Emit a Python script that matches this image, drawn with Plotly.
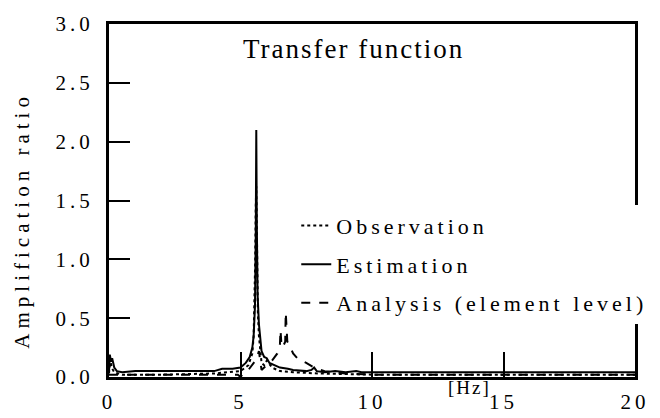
import plotly.graph_objects as go

# Estimation (solid)
est_f = [0, 0.03, 0.08, 0.12, 0.2, 0.3, 0.5, 1, 2, 3, 4, 4.3, 4.7, 5.0, 5.2, 5.35, 5.45, 5.5, 5.55, 5.58, 5.6, 5.62, 5.65, 5.7, 5.75, 5.8, 5.9, 6.0, 6.1, 6.3, 6.5, 6.8, 7.0, 7.5, 7.7, 7.8, 7.9, 8.2, 8.6, 9, 9.4, 9.6, 10, 12, 15, 18, 20]
est_v = [0.04, 0.19, 0.13, 0.16, 0.08, 0.05, 0.04, 0.05, 0.05, 0.05, 0.05, 0.07, 0.07, 0.08, 0.12, 0.17, 0.25, 0.35, 0.6, 1.2, 2.1, 1.3, 0.7, 0.45, 0.3, 0.22, 0.17, 0.16, 0.12, 0.1, 0.08, 0.07, 0.06, 0.05, 0.06, 0.08, 0.05, 0.04, 0.05, 0.04, 0.05, 0.04, 0.04, 0.04, 0.04, 0.04, 0.04]

# Observation (dotted)
obs_f = [0, 0.05, 0.1, 0.2, 0.5, 2, 4, 5.0, 5.3, 5.45, 5.5, 5.53, 5.56, 5.58, 5.6, 5.62, 5.64, 5.66, 5.7, 5.75, 5.8, 5.9, 6.0, 6.2, 6.5, 7, 8, 10, 15, 20]
obs_v = [0.03, 0.15, 0.08, 0.04, 0.02, 0.02, 0.03, 0.05, 0.1, 0.2, 0.35, 0.6, 1.0, 1.45, 1.62, 1.3, 0.9, 0.55, 0.35, 0.2, 0.12, 0.1, 0.14, 0.08, 0.05, 0.04, 0.03, 0.02, 0.02, 0.02]

# Analysis (dashed)
ana_f = [0, 1, 4, 4.9, 5.0, 5.1, 5.3, 5.5, 5.6, 5.7, 5.75, 5.8, 6.0, 6.2, 6.4, 6.5, 6.52, 6.55, 6.6, 6.7, 6.72, 6.75, 6.78, 6.85, 7.0, 7.2, 7.5, 7.8, 8.2, 9, 10, 15, 20]
ana_v = [0.02, 0.02, 0.02, 0.02, 0.0, 0.03, 0.06, 0.12, 0.15, 0.22, 0.12, 0.06, 0.1, 0.14, 0.2, 0.28, 0.4, 0.3, 0.25, 0.3, 0.55, 0.35, 0.3, 0.28, 0.2, 0.15, 0.12, 0.08, 0.05, 0.03, 0.02, 0.02, 0.02]

x_ticks = [0, 5, 10, 15, 20]
y_ticks = [0.0, 0.5, 1.0, 1.5, 2.0, 2.5, 3.0]
y_labels = ["0.0", "0.5", "1.0", "1.5", "2.0", "2.5", "3.0"]

FONT = "Liberation Serif, Times New Roman, serif"

fig = go.Figure()
fig.add_trace(go.Scatter(x=obs_f, y=obs_v, mode="lines", name="Observation",
                         line=dict(color="black", width=2, dash="dot"), legendgroup="a"))
fig.add_trace(go.Scatter(x=est_f, y=est_v, mode="lines", name="Estimation",
                         line=dict(color="black", width=2), legendgroup="b"))
fig.add_trace(go.Scatter(x=ana_f, y=ana_v, mode="lines", name="Analysis (element level)",
                         line=dict(color="black", width=2, dash="dash"), legendgroup="c"))

fig.add_annotation(text="Transfer function", x=9.3, y=2.79, xref="x", yref="y",
                   showarrow=False, font=dict(family=FONT, size=27, color="black"))
fig.add_annotation(text="[Hz]", x=13.7, y=-0.03, xref="x", yref="paper", yanchor="middle",
                   showarrow=False, font=dict(family=FONT, size=19, color="black"))
# y-axis title (placed as an annotation so it can sit slightly below centre, as in the reference)
fig.add_annotation(text="Amplification ratio", x=-0.165, y=0.445, xref="paper", yref="paper",
                   xanchor="center", yanchor="middle", textangle=-90,
                   showarrow=False, font=dict(family=FONT, size=21, color="black"))

fig.update_layout(
    width=660, height=418,
    margin=dict(l=101, r=33, t=16, b=49, autoexpand=False),
    paper_bgcolor="white", plot_bgcolor="white",
    font=dict(family=FONT, size=21, color="black"),
    showlegend=True,
    legend=dict(x=0.356, y=0.488, xanchor="left", yanchor="top",
                bgcolor="white", borderwidth=0,
                font=dict(family=FONT, size=22, color="black"),
                tracegroupgap=7, itemwidth=30),
    xaxis=dict(range=[0, 20], tickvals=x_ticks, showgrid=False, zeroline=False,
               showline=True, linecolor="black", linewidth=3, mirror=True,
               ticks="inside", ticklen=25, tickwidth=2, tickcolor="black",
               ticklabelstandoff=4),
    yaxis=dict(range=[0, 3.0], tickvals=y_ticks, ticktext=y_labels, showgrid=False,
               zeroline=False, showline=True, linecolor="black", linewidth=3, mirror=True,
               ticks="inside", ticklen=21, tickwidth=2, tickcolor="black",
               ticklabelstandoff=8),
)

# Reference text is typeset with wide letter spacing; apply it via CSS and redraw
# (font family string tweaked so plotly re-measures text with the spacing applied)
post = """
var gd = document.getElementById('{plot_id}');
var s = document.createElement('style');
s.textContent = 'svg text{letter-spacing:4px} svg text.legendtext{letter-spacing:4px} ' +
  'svg text.annotation-text{letter-spacing:2px} ' +
  'svg g.annotation[data-index="2"] text.annotation-text{letter-spacing:5px}';
document.head.appendChild(s);
var L = JSON.parse(JSON.stringify(gd.layout).split('Times New Roman, serif').join('Times New Roman, Times, serif'));
Plotly.newPlot(gd, gd.data, L, gd._context);
"""

fig.write_html("out.html", post_script=post)
